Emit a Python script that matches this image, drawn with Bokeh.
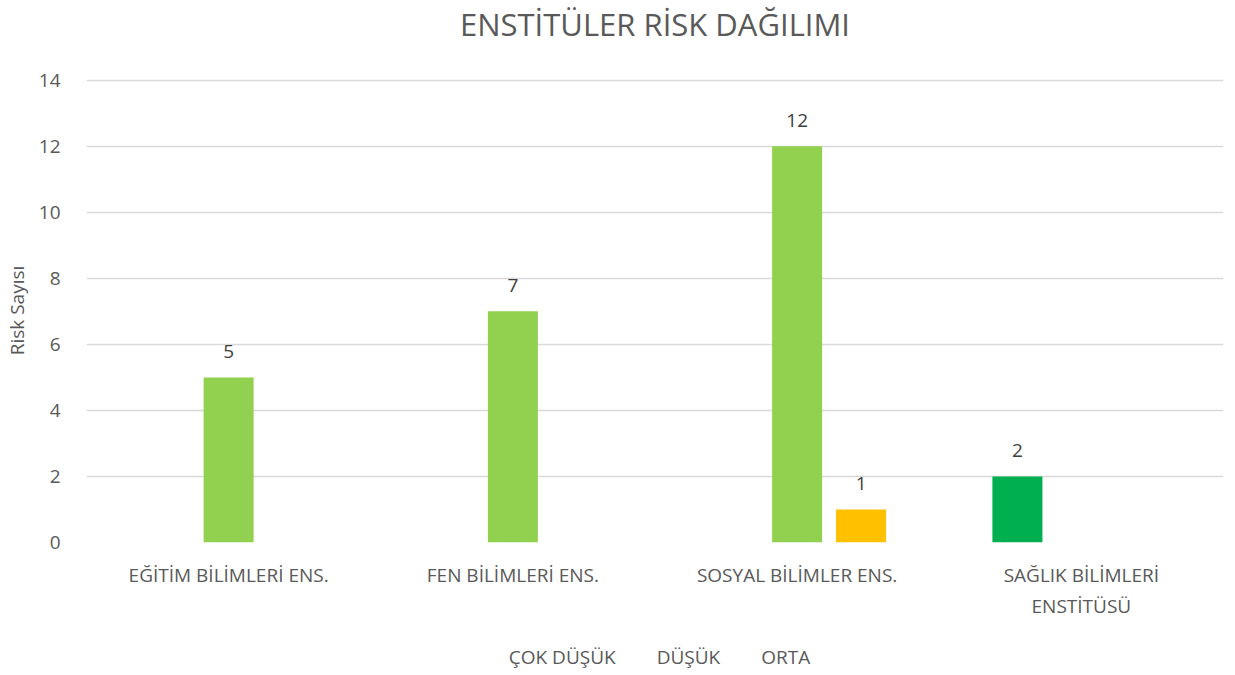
from bokeh.plotting import figure
from bokeh.layouts import column
from bokeh.models import ColumnDataSource, FactorRange, Legend, LegendItem, Title, SingleIntervalTicker
from bokeh.transform import dodge
from bokeh.core.properties import value
from bokeh.embed import file_html
from bokeh.resources import INLINE

categories = ["EĞİTİM BİLİMLERİ ENS.", "FEN BİLİMLERİ ENS.", "SOSYAL BİLİMLER ENS.", "SAĞLIK BİLİMLERİ\nENSTİTÜSÜ"]
series_names = ["ÇOK DÜŞÜK", "DÜŞÜK", "ORTA"]
cok_dusuk = [0, 0, 0, 2]
dusuk = [5, 7, 12, 0]
orta = [0, 0, 1, 0]
colors = ["#00B050", "#92D050", "#FFC000"]

FONT = "Open Sans"
TXT = "#595959"

src = ColumnDataSource(data=dict(cat=categories, s0=cok_dusuk, s1=dusuk, s2=orta))

p = figure(frame_width=1137, frame_height=464, x_range=FactorRange(*categories), y_range=(0, 14.05),
           output_backend="svg", toolbar_location=None, title_location=None,
           min_border_left=77, min_border_right=5, min_border_top=0, min_border_bottom=100)
p.outline_line_color = None

spacer = Title(text=" ", text_font=FONT, text_font_size="20px", standoff=5, padding=0)
p.add_layout(spacer, "above")
main_title = Title(text="ENSTİTÜLER RİSK DAĞILIMI", align="center",
                   text_font=FONT, text_font_size="31px", text_font_style="normal",
                   text_color=TXT, standoff=0, padding=0)
p.add_layout(main_title, "above")

offsets = [-0.225, 0.0, 0.225]
keys = ["s0", "s1", "s2"]
for k, off, c in zip(keys, offsets, colors):
    p.vbar(x=dodge("cat", off, range=p.x_range), top=k, width=0.176, source=src,
           fill_color=c, line_color=None)

# labels for nonzero values
for k, off, vals in zip(keys, offsets, [cok_dusuk, dusuk, orta]):
    xs = [c for c, v in zip(categories, vals) if v != 0]
    ys = [v for v in vals if v != 0]
    if not xs:
        continue
    s = ColumnDataSource(data=dict(x=xs, y=ys, t=[str(v) for v in ys]))
    p.text(x=dodge("x", off, range=p.x_range), y="y", text="t", source=s,
           text_align="center", text_baseline="middle", y_offset=-26,
           text_font=value(FONT), text_font_size="19px", text_color="#404040")

p.yaxis.ticker = SingleIntervalTicker(interval=2)
p.yaxis.axis_label = "Risk Sayısı"
p.yaxis.axis_label_text_font = FONT
p.yaxis.axis_label_text_font_size = "19px"
p.yaxis.axis_label_text_font_style = "normal"
p.yaxis.axis_label_text_color = TXT
p.yaxis.axis_label_standoff = 6
for ax in (p.xaxis, p.yaxis):
    ax.axis_line_color = None
    ax.major_tick_line_color = None
    ax.minor_tick_line_color = None
    ax.major_label_text_font = FONT
    ax.major_label_text_font_size = "19px"
    ax.major_label_text_color = TXT
p.yaxis.major_label_standoff = 20
p.xaxis.major_label_standoff = 13
p.xgrid.grid_line_color = None
p.ygrid.grid_line_color = "#D9D9D9"
p.ygrid.grid_line_width = 1.3

# legend strip below the chart
lf = figure(width=1219, height=30, x_range=(0, 1), y_range=(0, 1),
            output_backend="svg", toolbar_location=None, title_location=None,
            min_border=0)
lf.outline_line_color = None
lf.axis.visible = False
lf.grid.visible = False
lrs = []
for c in colors:
    lrs.append(lf.vbar(x=[], top=[], width=0.1, fill_color=c, line_color=None))
legend = Legend(items=[LegendItem(label=n, renderers=[r]) for n, r in zip(series_names, lrs)],
                orientation="horizontal", location="center",
                label_text_font=FONT, label_text_font_size="19px", label_text_color=TXT,
                glyph_width=14, glyph_height=14, spacing=22, label_standoff=5,
                border_line_color=None, background_fill_alpha=0, margin=0, padding=0)
lf.add_layout(legend, "center")

layout = column(p, lf, spacing=0)
open("out.html", "w").write(file_html(layout, INLINE))
